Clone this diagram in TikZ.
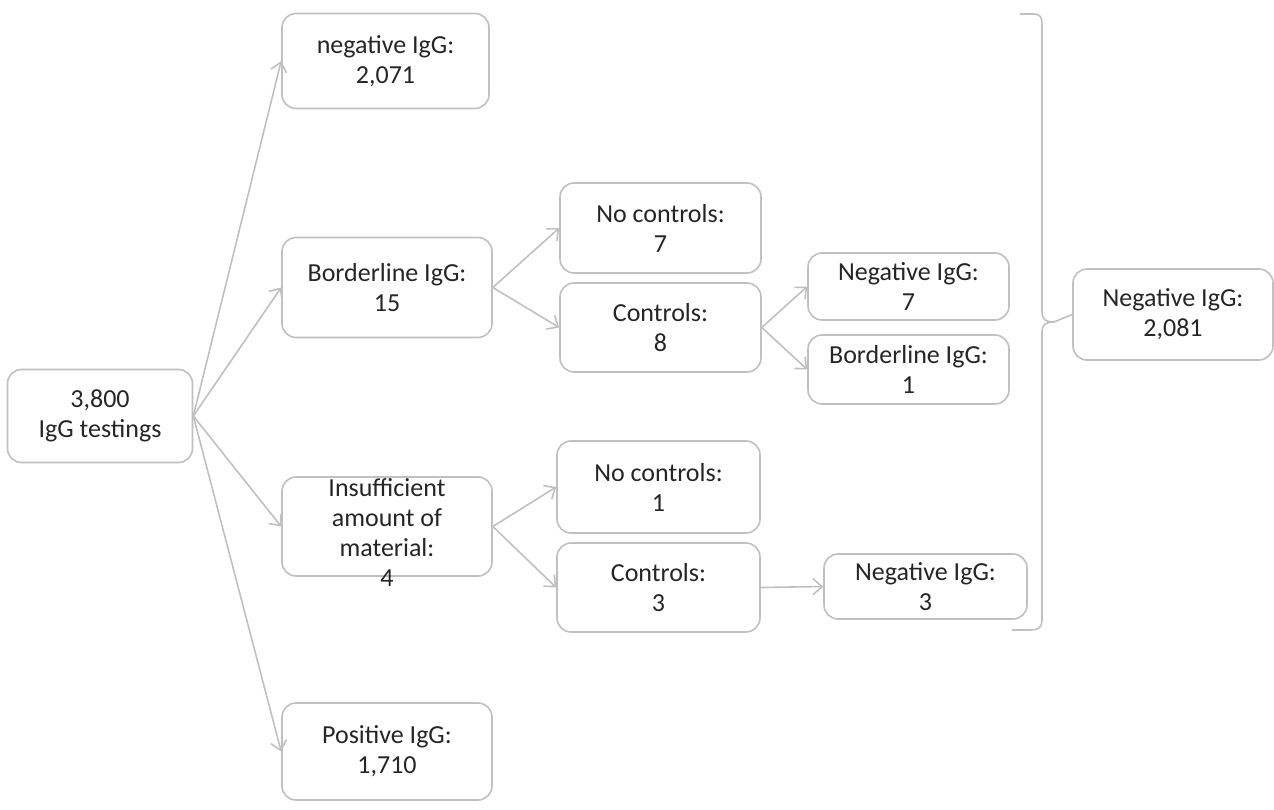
\documentclass[tikz,border=0pt]{standalone}
\usepackage{fontspec}
\setmainfont{Carlito}
\usetikzlibrary{arrows.meta}
\definecolor{boxgray}{RGB}{192,192,192}
\definecolor{txt}{RGB}{38,38,38}
\begin{document}
\begin{tikzpicture}[x=1pt,y=-1pt,
  box/.style={draw=boxgray, line width=1.6pt, rounded corners=14pt, fill=white,
    text=txt, align=center, inner sep=0pt, font=\fontsize{26}{30}\selectfont},
  conn/.style={draw=boxgray, line width=1.6pt, -{Straight Barb[length=9pt,width=16pt,line width=1.6pt]}},
  brace/.style={draw=boxgray, line width=1.6pt}]
\useasboundingbox (0,0) rectangle (1274,810);

\node[box, minimum width=185pt, minimum height=93pt] (root) at (100,416) {3,800\\IgG testings};

\node[box, minimum width=207pt, minimum height=95pt] (neg1) at (385.5,61) {negative IgG:\\2,071};
\node[box, minimum width=210pt, minimum height=100pt] (bord) at (387,287.5) {Borderline IgG:\\15};
\node[box, minimum width=210pt, minimum height=99pt, inner ysep=-12pt] (insf) at (387,526.5) {\rule{0pt}{30pt}Insufficient\\amount of\\material:\\4};
\node[box, minimum width=210pt, minimum height=97pt] (pos) at (387,751.5) {Positive IgG:\\1,710};

\node[box, minimum width=201pt, minimum height=90pt] (nc7) at (660.5,228) {No controls:\\7};
\node[box, minimum width=201pt, minimum height=89pt] (c8) at (660.5,327.5) {Controls:\\8};
\node[box, minimum width=201pt, minimum height=67pt] (n7) at (908.5,286.5) {Negative IgG:\\7};
\node[box, minimum width=201pt, minimum height=69pt] (b1) at (908.5,369.5) {Borderline IgG:\\1};

\node[box, minimum width=203pt, minimum height=92pt] (nc1) at (658.5,487) {No controls:\\1};
\node[box, minimum width=203pt, minimum height=89pt] (c3) at (658.5,587.5) {Controls:\\3};
\node[box, minimum width=203pt, minimum height=65pt] (n3) at (925.5,586.5) {Negative IgG:\\3};

\node[box, minimum width=200pt, minimum height=91pt] (tot) at (1173,314.5) {Negative IgG:\\2,081};

\draw[conn] (root.east) -- (neg1.west);
\draw[conn] (root.east) -- (bord.west);
\draw[conn] (root.east) -- (insf.west);
\draw[conn] (root.east) -- (pos.west);

\draw[conn] (bord.east) -- (nc7.west);
\draw[conn] (bord.east) -- (c8.west);
\draw[conn] (c8.east) -- (n7.west);
\draw[conn] (c8.east) -- (b1.west);

\draw[conn] (insf.east) -- (nc1.west);
\draw[conn] (insf.east) -- (c3.west);
\draw[conn] (c3.east) -- (n3.west);

\coordinate (btop) at (1020,14);
\coordinate (bbot) at (1012,630);
\draw[brace] (btop) -- (1033,14) .. controls (1040,14) and (1042,17) .. (1042,24)
  -- (1042,312) .. controls (1042,319) and (1045,322) .. (1054,322) -- (tot.west);
\draw[brace] (1054,322) .. controls (1045,322) and (1042,325) .. (1042,332)
  -- (1042,620) .. controls (1042,627) and (1039,630) .. (1030,630) -- (bbot);
\end{tikzpicture}
\end{document}
